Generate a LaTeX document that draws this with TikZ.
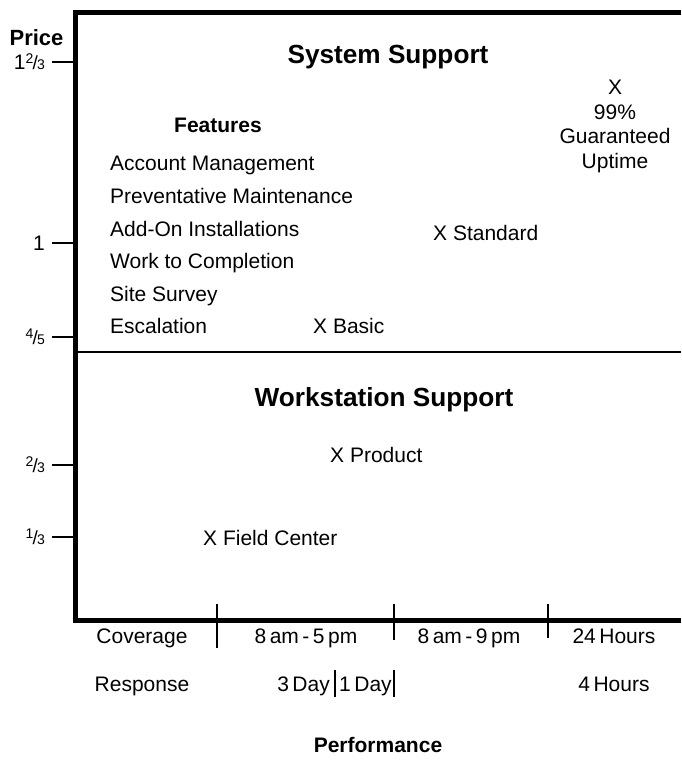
\documentclass[tikz,border=0pt]{standalone}
\usepackage{fontspec}
\setmainfont{Liberation Sans}
\newcommand{\frc}[2]{\raisebox{0.5ex}{\fontsize{14}{14}\selectfont #1}\kern-0.8pt{\fontsize{19}{19}\selectfont/}\kern-0.8pt{\fontsize{14}{14}\selectfont #2}}
\begin{document}
\begin{tikzpicture}[x=1pt,y=-1pt,
  txt/.style={font=\fontsize{21}{25}\selectfont, inner sep=0pt, text height=15pt, text depth=0pt},
  ttl/.style={font=\fontsize{26.2}{31}\selectfont\bfseries, inner sep=0pt, text height=19pt, text depth=0pt},
  bld/.style={font=\fontsize{21}{25}\selectfont\bfseries, inner sep=0pt, text height=15pt, text depth=0pt},
  thick axis/.style={line width=5pt},
  tickln/.style={line width=1.2pt},
]
\useasboundingbox (0,0) rectangle (681,769);
% frame
\draw[thick axis] (73,12) -- (681,12);
\draw[thick axis] (75,10) -- (75,622.5);
\draw[thick axis] (72.5,620) -- (681,620);
\draw[line width=1.5pt] (75,352) -- (681,352);
% y ticks
\foreach \yy in {62,243,337,465,537} \draw[tickln] (52,\yy) -- (75,\yy);
% x ticks
\draw[tickln] (217,604) -- (217,648);
\draw[tickln] (394,604) -- (394,640);
\draw[tickln] (548,604) -- (548,638);
\draw[tickln] (335,670) -- (335,697);
\draw[tickln] (394,670) -- (394,697);
% y labels
\node[bld, font=\fontsize{22}{26}\selectfont\bfseries] (price) at (36.5,38) {Price};
\node[txt, anchor=east] (y1) at (45,62) {1\frc{2}{3}};
\node[txt, anchor=east] (y2) at (45,243) {1};
\node[txt, anchor=east] (y3) at (45,337) {\frc{4}{5}};
\node[txt, anchor=east] (y4) at (45,465) {\frc{2}{3}};
\node[txt, anchor=east] (y5) at (45,537) {\frc{1}{3}};
% titles
\node[ttl] (sys) at (388,54) {System Support};
\node[ttl] (ws) at (384,397) {Workstation Support};
\node[bld] (feat) at (218,125) {Features};
% features
\node[txt, anchor=west] (f1) at (110,163) {Account Management};
\node[txt, anchor=west] (f2) at (110,196) {Preventative Maintenance};
\node[txt, anchor=west] (f3) at (110,229) {Add-On Installations};
\node[txt, anchor=west] (f4) at (110,261) {Work to Completion};
\node[txt, anchor=west] (f5) at (110,294) {Site Survey};
\node[txt, anchor=west] (f6) at (110,326) {Escalation};
% points
\node[txt, anchor=west] (basic) at (313,326) {X Basic};
\node[txt, anchor=west] (std) at (433,233) {X Standard};
\node[align=center, inner sep=0pt, font=\fontsize{21}{24.5}\selectfont, anchor=base] (up) at (615,168) {X\\99\%\\Guaranteed\\Uptime};
\node[txt, anchor=west] (prod) at (330,455) {X Product};
\node[txt, anchor=west] (fc) at (203,538) {X Field Center};
% bottom
\node[txt] (cov) at (142,636) {Coverage};
\node[txt] (c1) at (306,636) {8\,am\,-\,5\,pm};
\node[txt] (c2) at (469,636) {8\,am\,-\,9\,pm};
\node[txt] (c3) at (614,636) {24\,Hours};
\node[txt] (resp) at (142,684) {Response};
\node[txt, anchor=east] (r1) at (330,684) {3\,Day};
\node[txt, anchor=west] (r2) at (339,684) {1\,Day};
\node[txt] (r3) at (614,684) {4\,Hours};
\node[bld] (perf) at (378,745) {Performance};
\end{tikzpicture}
\end{document}
